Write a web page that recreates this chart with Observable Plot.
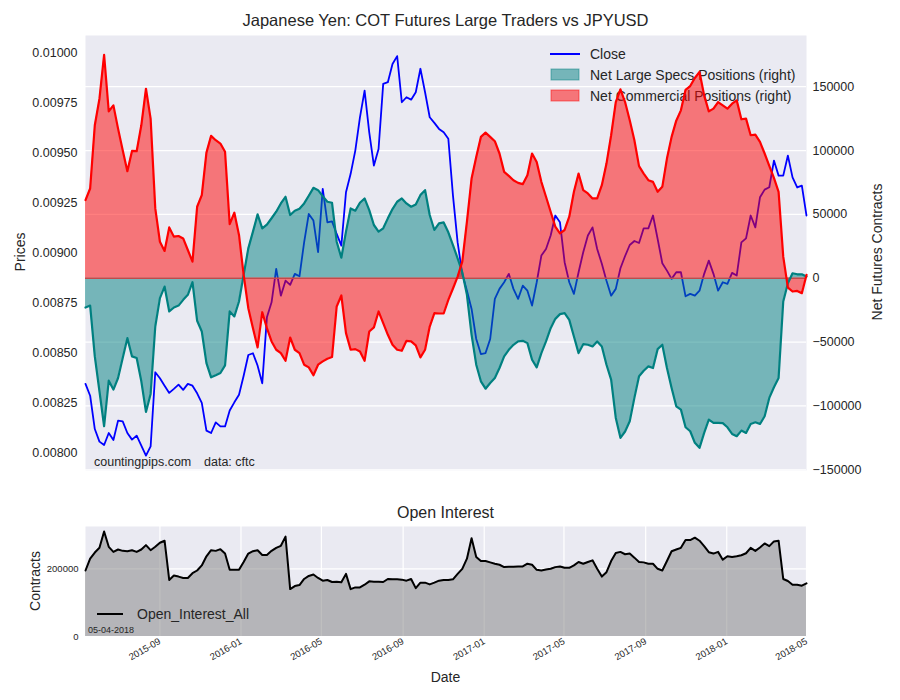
<!DOCTYPE html>
<html><head><meta charset="utf-8">
<script src="https://cdn.jsdelivr.net/npm/d3@7"></script>
<script src="https://cdn.jsdelivr.net/npm/@observablehq/plot@0.6"></script>
<style>
body{margin:0;background:#fff;}
#wrap{position:relative;width:900px;height:700px;font-family:"Liberation Sans",Arial,sans-serif;color:#262626;overflow:hidden;}
.abs{position:absolute;left:0;}
.t{position:absolute;white-space:nowrap;transform:translate(-50%,-50%);line-height:1;}
.r{transform:translate(-50%,-50%) rotate(-90deg);}
</style></head><body><div id="wrap"></div><script>
// ---- data (weekly COT reports, Tuesdays 2015-05-12 .. 2018-05-01) ----
const startDate = "2015-05-12";
const endDate = "2018-05-01";
const closePrice = [0.008347,0.008288,0.008122,0.008059,0.008042,0.008102,0.008067,0.008164,0.008160,0.008102,
0.008069,0.008089,0.008039,0.007989,0.008035,0.008405,0.008375,0.008338,0.008302,0.008322,
0.008343,0.008317,0.008347,0.008338,0.008300,0.008252,0.008114,0.008102,0.008155,0.008135,
0.008135,0.008214,0.008255,0.008293,0.008388,0.008491,0.008500,0.008438,0.008350,0.008679,
0.008754,0.008921,0.008787,0.008862,0.008841,0.008896,0.008884,0.009053,0.009195,0.009162,
0.009004,0.009320,0.009153,0.009158,0.009095,0.009037,0.009303,0.009395,0.009511,0.009677,
0.009810,0.009602,0.009436,0.009519,0.009844,0.009852,0.009943,0.009982,0.009752,0.009777,
0.009765,0.009802,0.009919,0.009802,0.009677,0.009649,0.009619,0.009602,0.009570,0.009286,
0.009053,0.008896,0.008812,0.008721,0.008571,0.008496,0.008501,0.008571,0.008771,0.008821,
0.008854,0.008896,0.008821,0.008771,0.008837,0.008812,0.008738,0.008854,0.008987,0.009020,
0.009087,0.009187,0.009153,0.008954,0.008854,0.008796,0.008904,0.009004,0.009087,0.009128,
0.009020,0.008946,0.008862,0.008787,0.008821,0.008924,0.008985,0.009040,0.009060,0.009050,
0.009123,0.009123,0.009187,0.009070,0.008949,0.008912,0.008871,0.008904,0.008904,0.008784,
0.008796,0.008787,0.008812,0.008896,0.008962,0.008896,0.008812,0.008854,0.008846,0.008901,
0.008888,0.009053,0.009073,0.009187,0.009128,0.009278,0.009316,0.009328,0.009461,0.009386,
0.009386,0.009486,0.009377,0.009327,0.009336,0.009187,0.009099];
const netLargeSpecs = [-22900,-21400,-61200,-88500,-115900,-80200,-87200,-78100,-62500,-46900,
-61200,-62500,-80700,-104700,-90600,-37800,-15600,-6500,-26000,-22900,
-21400,-16900,-13000,-3100,-33300,-41700,-66400,-77600,-76000,-74200,
-68200,-26000,-29900,-18200,2600,23400,36500,50000,39000,42000,
47000,52100,58600,63800,49500,52900,54400,58600,64600,70800,
69000,64300,59900,59100,28600,16100,36500,54700,52900,59100,
62500,53400,41700,36500,39100,46900,54200,59900,62500,58600,
56000,57800,65100,69000,49500,37800,43000,43700,36000,26000,
15600,4700,-13000,-44300,-67700,-80700,-86500,-82000,-78100,-70300,
-61200,-56000,-52100,-49500,-49000,-50800,-63800,-69800,-58600,-49500,
-39100,-31800,-28100,-27300,-32600,-45600,-58600,-51600,-52100,-53400,
-49500,-53400,-67700,-79400,-109400,-125000,-120000,-112000,-93700,-76800,
-72400,-69000,-70300,-55500,-52100,-70300,-85900,-100300,-102900,-116700,
-119800,-128900,-132800,-121100,-110700,-113300,-113300,-113500,-116700,-121900,
-123700,-119300,-121100,-114100,-112800,-114100,-108100,-93700,-85400,-78100,
-18200,-3900,3900,3100,3100,1300,-800];
const netCommercial = [61200,70300,119800,140600,175000,130700,135400,117200,100300,83800,
99700,99500,119800,148400,125000,54700,28600,21400,39800,32600,
33100,31200,22100,13000,56000,65100,98400,111500,108100,105500,
99000,42400,51300,33900,2600,-23400,-39100,-54200,-26600,-39100,
-49500,-56000,-58600,-64600,-46400,-56000,-58600,-67700,-69800,-76000,
-67700,-65100,-63000,-61700,-22100,-13500,-43000,-56000,-55500,-57300,
-64600,-41700,-38500,-26000,-35200,-44300,-52100,-56000,-56800,-49000,
-49500,-52600,-62000,-56000,-37800,-27300,-27600,-27600,-17000,-8000,
1300,13000,44300,78100,95000,110700,114000,110700,107300,97700,
83300,80200,76800,74700,73700,80700,97700,91100,75500,63800,
52100,40400,35200,37800,48200,67700,82000,69000,66400,62500,
62500,72900,89800,112000,138000,147900,138000,123700,108100,87800,
82000,76800,75500,67700,71600,93700,110700,123400,131500,147600,
150500,156800,161500,143200,130700,132800,138000,135400,132800,136700,
139300,124500,125000,112000,112500,106800,97700,88000,78600,67700,
16900,-7300,-10400,-9900,-11700,2600,7800];
const openInterest = [195000,230000,248000,262000,310000,265000,250000,257000,253000,252000,
255000,250000,257000,270000,255000,265000,277000,283000,167000,180000,
177000,173000,173000,187000,195000,210000,237000,255000,253000,258000,
245000,197000,197000,197000,220000,245000,252000,255000,241000,241000,
253000,262000,268000,295000,140000,149000,152000,170000,179000,183000,
173000,165000,167000,161000,162000,160000,185000,140000,145000,145000,
153000,163000,162000,162000,161000,170000,169000,169000,168000,165000,
170000,143000,159000,159000,154000,159000,165000,167000,167000,169000,
185000,200000,230000,290000,235000,223000,223000,219000,215000,212000,
205000,206000,206000,207000,207000,215000,212000,197000,195000,198000,
200000,205000,207000,203000,203000,210000,220000,215000,220000,225000,
200000,177000,190000,223000,247000,250000,243000,245000,233000,220000,
219000,215000,215000,200000,195000,223000,252000,257000,262000,285000,
285000,292000,283000,267000,249000,245000,250000,227000,237000,235000,
237000,240000,246000,262000,253000,263000,275000,267000,281000,283000,
170000,164000,153000,153000,150000,157000,162000];
const priceTicks = [0.008,0.00825,0.0085,0.00875,0.009,0.00925,0.0095,0.00975,0.01];
const contractTicks = [-150000,-100000,-50000,0,50000,100000,150000];
const oiTicks = [0,200000];
const seriesNames = ["Close","Net Large Specs Positions (right)","Net Commercial Positions (right)"];

// ---- build table ----
const parse = d3.utcParse("%Y-%m-%d");
const d0 = parse(startDate), d1 = parse(endDate);
const dates = d3.utcTuesday.range(d0, d3.utcDay.offset(d1, 1));
const rows = dates.map((date, i) => ({date, close: closePrice[i], specs: netLargeSpecs[i], comm: netCommercial[i], oi: openInterest[i]}));

// twin-axis mapping: price axis domain onto contracts axis domain
const priceDomain = [0.007915, 0.010085];
const contractDomain = [-150550, 190100];
const toV = d3.scaleLinear().domain(priceDomain).range(contractDomain);

const FONT = '"Liberation Sans", Arial, sans-serif';
const INK = "#262626";
const BG = "#EAEAF2";
const wrap = document.getElementById("wrap");

function addText(txt, x, y, size, cls) {
  const el = document.createElement("div");
  el.className = "t" + (cls ? " " + cls : "");
  el.style.left = x + "px"; el.style.top = y + "px"; el.style.fontSize = size + "px";
  el.textContent = txt; wrap.appendChild(el);
}

// legend (drawn beneath the fills, like the original)
function topLegend() {
  const g = d3.create("svg:g").attr("font-family", FONT).attr("font-size", 14).attr("fill", INK).attr("text-anchor", "start");
  g.append("line").attr("x1", 550).attr("x2", 580).attr("y1", 54).attr("y2", 54).attr("stroke", "blue").attr("stroke-width", 2);
  g.append("rect").attr("x", 551).attr("y", 69).attr("width", 28).attr("height", 11).attr("fill", "teal").attr("fill-opacity", 0.5).attr("stroke", "teal").attr("stroke-opacity", 0.5);
  g.append("rect").attr("x", 551).attr("y", 90).attr("width", 28).attr("height", 11).attr("fill", "red").attr("fill-opacity", 0.5).attr("stroke", "red").attr("stroke-opacity", 0.5);
  [54, 75, 96].forEach((y, i) => g.append("text").attr("x", 590).attr("y", y).attr("dy", "0.35em").text(seriesNames[i]));
  g.append("text").attr("x", 94).attr("y", 462).attr("dy", "0.35em").attr("font-size", 12.5).text("countingpips.com");
  g.append("text").attr("x", 204).attr("y", 462).attr("dy", "0.35em").attr("font-size", 12.5).text("data: cftc");
  return g.node();
}

const topPlot = Plot.plot({
  width: 900, height: 480,
  marginTop: 35, marginBottom: 10, marginLeft: 85, marginRight: 94,
  style: {fontFamily: FONT, fontSize: "12.5px", color: INK, background: "transparent", overflow: "visible"},
  x: {type: "utc", domain: [d0, d1], axis: null},
  y: {domain: contractDomain, axis: null},
  marks: [
    Plot.frame({fill: BG, stroke: null}),
    Plot.gridY(contractTicks, {stroke: "white", strokeOpacity: 1, strokeWidth: 1.2}),
    topLegend,
    Plot.line(rows, {x: "date", y: d => toV(d.close), stroke: "blue", strokeWidth: 1.8}),
    Plot.areaY(rows, {x: "date", y1: 0, y2: "specs", fill: "teal", fillOpacity: 0.5}),
    Plot.areaY(rows, {x: "date", y1: 0, y2: "comm", fill: "red", fillOpacity: 0.5}),
    Plot.ruleY([0], {stroke: "#c24a4a", strokeWidth: 1.5}),
    Plot.line(rows, {x: "date", y: "specs", stroke: "teal", strokeWidth: 2.2}),
    Plot.line(rows, {x: "date", y: "comm", stroke: "red", strokeWidth: 2.2}),
    Plot.axisY(contractTicks, {anchor: "right", tickSize: 0, tickPadding: 6, tickFormat: d3.format("d"), label: null, fill: INK}),
    Plot.axisY(priceTicks.map(toV), {anchor: "left", tickSize: 0, tickPadding: 8, tickFormat: v => toV.invert(v).toFixed(5), label: null, fill: INK})
  ]
});
topPlot.classList.add("abs"); topPlot.style.top = "0px";
wrap.appendChild(topPlot);

function oiLegend() {
  const g = d3.create("svg:g").attr("font-family", FONT).attr("fill", INK).attr("text-anchor", "start");
  g.append("line").attr("x1", 97).attr("x2", 123).attr("y1", 124).attr("y2", 124).attr("stroke", "black").attr("stroke-width", 2);
  g.append("text").attr("x", 137).attr("y", 124).attr("dy", "0.35em").attr("font-size", 14).text("Open_Interest_All");
  g.append("text").attr("x", 88).attr("y", 140).attr("dy", "0.35em").attr("font-size", 9).text("05-04-2018");
  return g.node();
}

const botPlot = Plot.plot({
  width: 900, height: 210,
  marginTop: 36, marginBottom: 64, marginLeft: 85, marginRight: 94,
  style: {fontFamily: FONT, fontSize: "9.5px", color: INK, background: "transparent", overflow: "visible"},
  x: {type: "utc", domain: [d0, d1], axis: null},
  y: {domain: [0, 325000], axis: null},
  marks: [
    Plot.frame({fill: BG, stroke: null}),
    Plot.gridX(d3.utcMonth.every(4).range(d0, d3.utcDay.offset(d1, 1)), {stroke: "white", strokeOpacity: 1, strokeWidth: 1.2}),
    Plot.gridY(oiTicks, {stroke: "white", strokeOpacity: 1, strokeWidth: 1.2}),
    Plot.areaY(rows, {x: "date", y1: 0, y2: "oi", fill: "gray", fillOpacity: 0.5}),
    Plot.line(rows, {x: "date", y: "oi", stroke: "black", strokeWidth: 2}),
    oiLegend,
    Plot.axisY(oiTicks, {anchor: "left", tickSize: 0, tickPadding: 7, tickFormat: d3.format("d"), label: null, fill: INK}),
    Plot.axisX(d3.utcMonth.every(4).range(d0, d3.utcDay.offset(d1, 1)), {anchor: "bottom", tickSize: 0, tickPadding: 4, tickRotate: -30, tickFormat: d3.utcFormat("%Y-%m"), label: null, fill: INK})
  ]
});
botPlot.classList.add("abs"); botPlot.style.top = "490px";
wrap.appendChild(botPlot);

addText("Japanese Yen: COT Futures Large Traders vs JPYUSD", 445.5, 20, 16.5);
addText("Prices", 20, 252, 14, "r");
addText("Net Futures Contracts", 877, 252, 14, "r");
addText("Open Interest", 445.5, 513, 16);
addText("Contracts", 35, 581, 14, "r");
addText("Date", 445.5, 677, 14);
</script></body></html>
